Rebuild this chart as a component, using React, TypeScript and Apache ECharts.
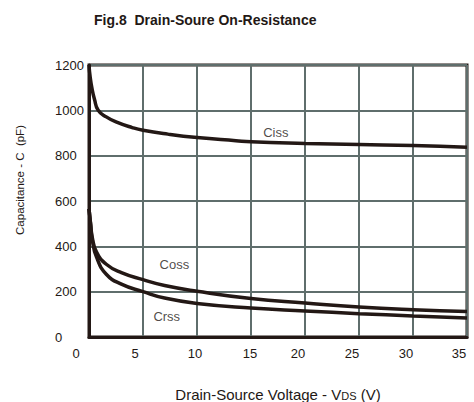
import React, { useEffect, useRef } from "react";
import * as echarts from "echarts";

const titleText = "Fig.8  Drain-Soure On-Resistance";
const xTicks = [0, 5, 10, 15, 20, 25, 30, 35];
const yTicks = [0, 200, 400, 600, 800, 1000, 1200];

const vCiss = [0, 0.1, 0.3, 0.5, 0.85, 1.6, 2.5, 4, 5, 7.3, 10, 13.6, 15, 20, 25, 30, 35];
const ciss = [1200, 1150, 1090, 1050, 1000, 971, 949, 924, 912, 895, 880, 866, 861, 854, 849, 845, 837];

const vOut = [0, 0.15, 0.3, 0.7, 1.6, 3, 5, 7, 10, 15, 20, 25, 30, 35];
const coss = [565, 500, 440, 375, 321, 284, 253, 227, 202, 170, 150, 132, 120, 112];
const crss = [565, 495, 430, 352, 277, 233, 200, 172, 148, 128, 115, 103, 93, 84];

const curveLabels = [
  { name: "Ciss", v: 17.3, c: 903 },
  { name: "Coss", v: 7.9, c: 318 },
  { name: "Crss", v: 7.2, c: 90 },
];

const FONT = "'Liberation Sans', Arial, sans-serif";
const INK = "#231815";
const GRID = "#5f6e6c";

// horizontal shift (px, negative = left) of each x tick label
const xShift: Record<number, number> = { 0: -13, 5: -8, 10: -2, 15: -1, 20: -7, 25: -7, 30: -7, 35: -8 };

export default function App() {
  const ref = useRef<HTMLDivElement>(null);
  useEffect(() => {
    if (!ref.current) return;
    const chart = echarts.init(ref.current, null, { renderer: "svg", width: 474, height: 402 });
    const rich: Record<string, any> = {};
    Object.keys(xShift).forEach((k) => {
      const s = xShift[Number(k)];
      rich["t" + k] = {
        fontSize: 13,
        fontFamily: FONT,
        color: INK,
        padding: s < 0 ? [0, -2 * s, 0, 0] : [0, 0, 0, 2 * s],
      };
    });
    const mkLine = (xs: number[], ys: number[], name: string) => ({
      type: "line",
      name,
      data: xs.map((x, i) => [x, ys[i]]),
      smooth: 0.5,
      showSymbol: false,
      symbol: "none",
      lineStyle: { color: INK, width: 3.5 },
      z: 5,
    });
    const labelSeries = {
      type: "scatter",
      data: curveLabels.map((l) => ({ value: [l.v, l.c], name: l.name })),
      symbolSize: 0,
      silent: true,
      label: {
        show: true,
        position: "inside",
        formatter: (p: any) => p.name,
        fontSize: 13,
        fontFamily: FONT,
        color: INK,
      },
      z: 6,
    };
    chart.setOption({
      animation: false,
      backgroundColor: "#ffffff",
      title: {
        text: titleText,
        left: 89,
        top: 8,
        textStyle: { fontSize: 14, fontWeight: "bold", fontFamily: FONT, color: INK },
      },
      grid: {
        left: 89,
        right: 7,
        top: 65,
        bottom: 65,
        show: true,
        borderColor: INK,
        borderWidth: 3,
        containLabel: false,
        outerBoundsMode: "none",
      },
      xAxis: {
        type: "value",
        min: xTicks[0],
        max: xTicks[xTicks.length - 1],
        interval: 5,
        name: "Drain-Source Voltage - V{s|DS} (V)",
        nameLocation: "middle",
        nameGap: 50,
        nameTextStyle: {
          fontSize: 15,
          fontFamily: FONT,
          color: INK,
          rich: { s: { fontSize: 11, fontFamily: FONT, color: INK, verticalAlign: "bottom", padding: [0, 0, 1, 0] } },
        },
        axisLine: { show: true, lineStyle: { color: INK, width: 3 } },
        axisTick: { show: false },
        splitLine: { show: true, lineStyle: { color: GRID, width: 2 } },
        axisLabel: {
          margin: 10,
          formatter: (v: number) => `{t${v}|${v}}`,
          rich,
        },
      },
      yAxis: {
        type: "value",
        min: yTicks[0],
        max: yTicks[yTicks.length - 1],
        interval: 200,
        name: "Capacitance - C  (pF)",
        nameLocation: "middle",
        nameGap: 63,
        nameRotate: 90,
        nameTextStyle: { fontSize: 11.5, fontFamily: FONT, color: INK, padding: [0, 0, 0, 42] },
        axisLine: { show: true, lineStyle: { color: INK, width: 3 } },
        axisTick: { show: false },
        splitLine: { show: true, lineStyle: { color: GRID, width: 2 } },
        axisLabel: {
          margin: 34,
          align: "left",
          fontSize: 13,
          fontFamily: FONT,
          color: INK,
          padding: [6, 0, 0, 0],
          formatter: (v: number) => String(v),
        },
      },
      series: [mkLine(vCiss, ciss, "Ciss"), mkLine(vOut, coss, "Coss"), mkLine(vOut, crss, "Crss"), labelSeries],
    });
    return () => chart.dispose();
  }, []);
  return <div ref={ref} style={{ position: "absolute", left: 0, top: 0, width: 474, height: 402 }} />;
}
